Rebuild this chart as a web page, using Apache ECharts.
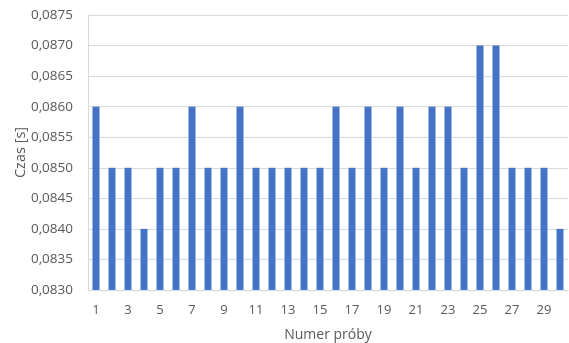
<!DOCTYPE html>
<html>
<head>
<meta charset="utf-8">
<script src="https://cdn.jsdelivr.net/npm/echarts@6/dist/echarts.min.js"></script>
<style>
  html, body { margin: 0; padding: 0; background: #fff; }
  #chart { width: 569px; height: 343px; }
</style>
</head>
<body>
<div id="chart"></div>
<script>
// Trial numbers and measured times (seconds)
const trials = Array.from({ length: 30 }, (_, i) => String(i + 1));
const times = [
  0.0860, 0.0850, 0.0850, 0.0840, 0.0850, 0.0850, 0.0860, 0.0850, 0.0850, 0.0860,
  0.0850, 0.0850, 0.0850, 0.0850, 0.0850, 0.0860, 0.0850, 0.0860, 0.0850, 0.0860,
  0.0850, 0.0860, 0.0860, 0.0850, 0.0870, 0.0870, 0.0850, 0.0850, 0.0850, 0.0840
];
const yMin = 0.0830, yMax = 0.0875, yStep = 0.0005;

const textColor = '#595959';
const gridColor = '#d9d9d9';
const fontFamily = '"Open Sans", "Noto Sans", sans-serif';

const chart = echarts.init(document.getElementById('chart'));
chart.setOption({
  animation: false,
  grid: { left: 88, right: 1, top: 15, bottom: 53, containLabel: false, outerBoundsMode: 'none' },
  xAxis: {
    type: 'category',
    data: trials,
    name: 'Numer próby',
    nameLocation: 'middle',
    nameGap: 38,
    nameMoveOverlap: false,
    nameTextStyle: { color: textColor, fontSize: 14, fontFamily },
    axisLine: { show: true, lineStyle: { color: gridColor } },
    axisTick: { show: false },
    axisLabel: { interval: 1, color: textColor, fontSize: 13, fontFamily, margin: 14 }
  },
  yAxis: {
    type: 'value',
    min: yMin,
    max: yMax,
    interval: yStep,
    name: 'Czas [s]',
    nameLocation: 'middle',
    nameGap: 60,
    nameMoveOverlap: false,
    nameRotate: 90,
    nameTextStyle: { color: textColor, fontSize: 14.5, fontFamily },
    axisLine: { show: true, lineStyle: { color: gridColor } },
    axisTick: { show: false },
    splitLine: { lineStyle: { color: gridColor } },
    axisLabel: {
      color: textColor, fontSize: 13.5, fontFamily, margin: 15,
      formatter: v => v.toFixed(4).replace('.', ',')
    }
  },
  series: [{
    type: 'bar',
    data: times,
    barWidth: 7,
    itemStyle: { color: '#4472c4' }
  }]
});
</script>
</body>
</html>
